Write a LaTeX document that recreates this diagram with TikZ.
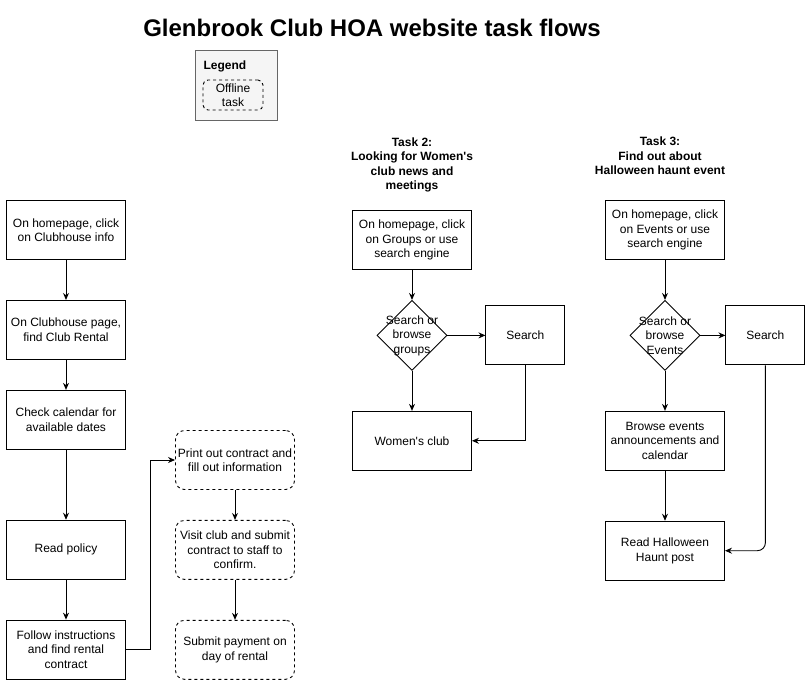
\documentclass[tikz,border=0pt]{standalone}
\usepackage{fontspec}
\setmainfont{Liberation Sans}
\usetikzlibrary{positioning,shapes.geometric,arrows.meta}

\begin{document}
\begin{tikzpicture}[x=1pt,y=-1pt,
  every node/.style={font=\fontsize{12}{14.5}\selectfont, align=center},
  task/.style={draw, line width=0.9pt, minimum width=119pt, minimum height=59pt, inner sep=2pt},
  offline/.style={task, rounded corners=9pt, dash pattern=on 3pt off 3pt},
  small/.style={draw, line width=0.9pt, minimum width=79pt, minimum height=59pt},
  decision/.style={draw, line width=0.9pt, diamond, minimum width=70pt, minimum height=70pt, inner sep=0pt},
  heading/.style={font=\fontsize{12}{14.5}\selectfont\bfseries},
  flow/.style={line width=0.9pt, -{Stealth[length=7pt,width=6pt]}}]

  \useasboundingbox (0,0) rectangle (807,681);

  % Title and legend

  \node[font=\fontsize{24}{28}\selectfont\bfseries] (title) at (372,28) {Glenbrook Club HOA website task flows} ; %
  \node[draw=black!60, fill=black!4, line width=0.9pt, minimum width=82pt, minimum height=70pt] (legend) at (236,85) {} ; %
  \node[heading, anchor=west] (legendtitle) at (200,66) {Legend} ; %
  \node[draw, line width=0.9pt, rounded corners=5pt, dash pattern=on 3pt off 3pt, minimum width=60pt, minimum height=30pt, inner sep=0pt] (legendbox) at (233,95) {Offline\\task} ; %

  % Task 1

  \node[task]                      (home1)      at (66,230) {On homepage, click\\on Clubhouse info} ; %
  \node[task, below=40pt of home1] (clubhouse)  {On Clubhouse page,\\find Club Rental} ; %
  \node[task, below=30pt of clubhouse] (calendar) {Check calendar for\\available dates} ; %
  \node[task, below=70pt of calendar] (policy)  {Read policy} ; %
  \node[task, below=40pt of policy] (contract)  {Follow instructions\\and find rental\\contract} ; %

  \node[offline]                   (print)      at (235,460) {Print out contract and\\fill out information} ; %
  \node[offline, below=30pt of print] (visit)   {Visit club and submit\\contract to staff to\\confirm.} ; %
  \node[offline, below=40pt of visit] (payment) {Submit payment on\\day of rental} ; %

  \draw[flow] (home1) -- (clubhouse);
  \draw[flow] (clubhouse) -- (calendar);
  \draw[flow] (calendar) -- (policy);
  \draw[flow] (policy) -- (contract);
  \draw[flow] (contract.east) -- ++(24,0) |- (print.west);
  \draw[flow] (print) -- (visit);
  \draw[flow] (visit) -- (payment);

  % Task 2

  \node[heading]                   (task2)      at (412,165) {Task 2:\\Looking for Women\textquotesingle s\\club news and\\meetings} ; %
  \node[task]                      (home2)      at (412,240) {On homepage, click\\on Groups or use\\search engine} ; %
  \node[decision, below=30pt of home2] (choice2) {} ; %
  \node                            (choice2text) at (choice2) {Search or\\browse\\groups} ; %
  \node[small, right=38pt of choice2] (search2) {Search} ; %
  \node[task, below=40pt of choice2] (womens)   {Women\textquotesingle s club} ; %

  \draw[flow] (home2) -- (choice2);
  \draw[flow] (choice2) -- (search2);
  \draw[flow] (choice2) -- (womens);
  \draw[flow] (search2.south) |- (womens.east);

  % Task 3

  \node[heading]                   (task3)      at (660,156) {Task 3:\\Find out about\\Halloween haunt event} ; %
  \node[task]                      (home3)      at (665,230) {On homepage, click\\on Events or use\\search engine} ; %
  \node[decision, below=40pt of home3] (choice3) {} ; %
  \node                            (choice3text) at (choice3) {Search or\\browse\\Events} ; %
  \node[small, right=25pt of choice3] (search3) {Search} ; %
  \node[task, below=40pt of choice3] (browse)   {Browse events\\announcements and\\calendar} ; %
  \node[task, below=50pt of browse] (haunt)     {Read Halloween\\Haunt post} ; %

  \draw[flow] (home3) -- (choice3);
  \draw[flow] (choice3) -- (search3);
  \draw[flow] (choice3) -- (browse);
  \draw[flow] (browse) -- (haunt);
  \draw[flow, rounded corners=8pt] (search3.south) |- (haunt.east);

\end{tikzpicture}
\end{document}
